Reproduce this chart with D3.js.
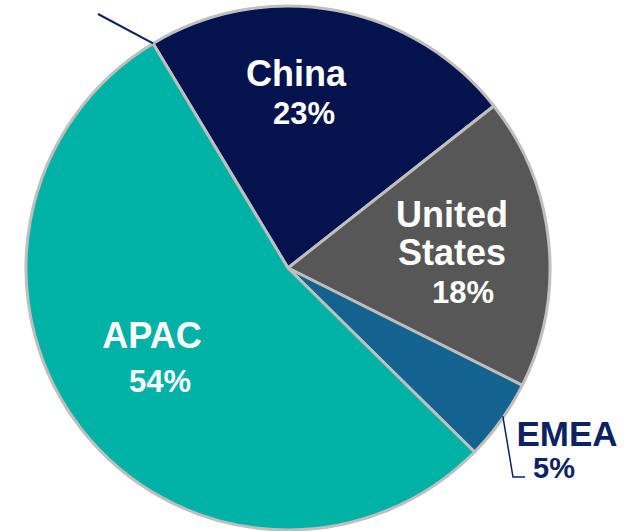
<!DOCTYPE html>
<html>
<head>
<meta charset="utf-8">
<script src="https://d3js.org/d3.v7.min.js"></script>
<style>
  html, body { margin: 0; padding: 0; background: #ffffff; }
  svg { display: block; }
</style>
</head>
<body>
<div id="chart"></div>
<script>
// data
const categories = ["China", "United States", "EMEA", "APAC"];
const values = [23, 18, 5, 54];
const colors = ["#04124e", "#575757", "#13628f", "#00b2a5"];

const width = 628, height = 531;
const cx = 288, cy = 268, radius = 262;
const startDeg = -31;

// label layout (offsets from pie centre), line breaks for names
const labelLines = {
  "China": ["China"],
  "United States": ["United", "States"],
  "EMEA": ["EMEA"],
  "APAC": ["APAC"]
};
const labelLayout = {
  "China":         { x: 8,   y: -182, px: 16,  py: -144, size: 36, psize: 31 },
  "United States": { x: 164, y: -41,  px: 175, py: 35,   size: 36, psize: 31 },
  "APAC":          { x: -136, y: 80,  px: -128, py: 124, size: 36, psize: 31 },
  "EMEA":          { x: 279, y: 178,  px: 266, py: 210,  size: 35, psize: 29, outside: true }
};

const svg = d3.select("#chart").append("svg")
  .attr("width", width)
  .attr("height", height);

const g = svg.append("g").attr("transform", `translate(${cx},${cy})`);

const toRad = d => d * Math.PI / 180;

const pie = d3.pie()
  .sort(null)
  .value(d => d.value)
  .startAngle(toRad(startDeg))
  .endAngle(toRad(startDeg) + 2 * Math.PI);

const data = categories.map((c, i) => ({ name: c, value: values[i], color: colors[i] }));
const arcs = pie(data);

const arc = d3.arc().innerRadius(0).outerRadius(radius);

g.selectAll("path.slice")
  .data(arcs)
  .join("path")
  .attr("class", "slice")
  .attr("d", arc)
  .attr("fill", d => d.data.color)
  .attr("stroke", "#bfbfbf")
  .attr("stroke-width", 3)
  .attr("stroke-linejoin", "round");

// leader line at top-left (label outside view)
const pt = (deg, r) => [r * Math.sin(toRad(deg)), -r * Math.cos(toRad(deg))];
const topStart = pt(startDeg, radius);
const topEnd = [-190, -254];
g.append("line")
  .attr("x1", topStart[0]).attr("y1", topStart[1])
  .attr("x2", topEnd[0]).attr("y2", topEnd[1])
  .attr("stroke", "#0d2263")
  .attr("stroke-width", 2);

// EMEA leader line
const emea = arcs.find(a => a.data.name === "EMEA");
const midDeg = ((emea.startAngle + emea.endAngle) / 2) * 180 / Math.PI;
const e0 = pt(midDeg - 1, radius - 1);
g.append("path")
  .attr("d", d3.line()([e0, [225, 209], [237, 209]]))
  .attr("fill", "none")
  .attr("stroke", "#0d2263")
  .attr("stroke-width", 1.5);

// labels
arcs.forEach(a => {
  const name = a.data.name;
  const lay = labelLayout[name];
  const fill = lay.outside ? "#0d2263" : "#ffffff";
  const lines = labelLines[name];
  lines.forEach((ln, i) => {
    g.append("text")
      .attr("x", lay.x)
      .attr("y", lay.y + i * 38)
      .attr("text-anchor", "middle")
      .attr("font-family", "'Liberation Sans', Arial, sans-serif")
      .attr("font-weight", "bold")
      .attr("font-size", lay.size)
      .attr("fill", fill)
      .text(ln);
  });
  g.append("text")
    .attr("x", lay.px)
    .attr("y", lay.py)
    .attr("text-anchor", "middle")
    .attr("font-family", "'Liberation Sans', Arial, sans-serif")
    .attr("font-weight", "bold")
    .attr("font-size", lay.psize)
    .attr("fill", fill)
    .text(a.data.value + "%");
});
</script>
</body>
</html>
